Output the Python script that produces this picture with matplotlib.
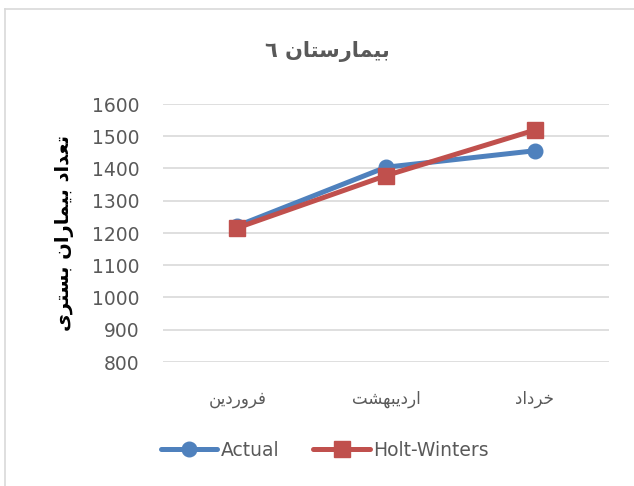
import matplotlib
matplotlib.use("Agg")
import matplotlib.pyplot as plt
from matplotlib.lines import Line2D

# data
months = ["فروردین", "اردیبهشت", "خرداد"]
actual = [1222, 1404, 1455]
holt_winters = [1216, 1378, 1519]
series_names = ["Actual", "Holt-Winters"]
title = "بیمارستان ٦"
ylabel = "تعداد بیماران بستری"
yticks = [800, 900, 1000, 1100, 1200, 1300, 1400, 1500, 1600]

BLUE = "#4F81BD"
RED = "#C0504D"
GRAY = "#595959"
GRID = "#D9D9D9"

# matplotlib has no arabic shaping, so map letters to presentation forms
# (isolated, final, initial, medial) and reverse for visual order
FORMS = {
    "ا": ("\uFE8D", "\uFE8E", None, None),
    "ب": ("\uFE8F", "\uFE90", "\uFE91", "\uFE92"),
    "ت": ("\uFE95", "\uFE96", "\uFE97", "\uFE98"),
    "خ": ("\uFEA5", "\uFEA6", "\uFEA7", "\uFEA8"),
    "د": ("\uFEA9", "\uFEAA", None, None),
    "ر": ("\uFEAD", "\uFEAE", None, None),
    "س": ("\uFEB1", "\uFEB2", "\uFEB3", "\uFEB4"),
    "ش": ("\uFEB5", "\uFEB6", "\uFEB7", "\uFEB8"),
    "ع": ("\uFEC9", "\uFECA", "\uFECB", "\uFECC"),
    "ف": ("\uFED1", "\uFED2", "\uFED3", "\uFED4"),
    "م": ("\uFEE1", "\uFEE2", "\uFEE3", "\uFEE4"),
    "ن": ("\uFEE5", "\uFEE6", "\uFEE7", "\uFEE8"),
    "ه": ("\uFEE9", "\uFEEA", "\uFEEB", "\uFEEC"),
    "و": ("\uFEED", "\uFEEE", None, None),
    "ی": ("\uFEEF", "\uFEF0", "\uFEF3", "\uFEF4"),
}


def dual(ch):
    return ch in FORMS and FORMS[ch][2] is not None


def shape(text):
    out = []
    for i, ch in enumerate(text):
        if ch not in FORMS:
            out.append(ch)
            continue
        prev = text[i - 1] if i > 0 else ""
        nxt = text[i + 1] if i + 1 < len(text) else ""
        join_prev = dual(prev)
        join_next = dual(ch) and nxt in FORMS
        iso, fin, ini, med = FORMS[ch]
        if join_prev and join_next:
            out.append(med)
        elif join_prev:
            out.append(fin)
        elif join_next:
            out.append(ini)
        else:
            out.append(iso)
    return "".join(reversed(out))


plt.rcParams["font.family"] = ["DejaVu Sans"]

W, H = 634, 486
fig = plt.figure(figsize=(W / 100, H / 100), dpi=100)

# chart frame (only top/left edges visible in the crop)
fig.add_artist(Line2D([5 / W, 5 / W], [0, 1 - 9 / H], color=GRID, lw=1.2))
fig.add_artist(Line2D([5 / W, 1], [1 - 9 / H, 1 - 9 / H], color=GRID, lw=1.2))

ax = fig.add_axes([163 / W, 1 - 362 / H, (609 - 163) / W, (362 - 104) / H])
x = list(range(len(months)))
ax.plot(x, actual, color=BLUE, lw=3.6, marker="o", ms=10.5, label=series_names[0],
        solid_capstyle="round", zorder=3)
ax.plot(x, holt_winters, color=RED, lw=3.6, marker="s", ms=11.5, label=series_names[1],
        solid_capstyle="round", zorder=4)

ax.set_xlim(-0.5, len(months) - 0.5)
ax.set_ylim(800, 1600)
ax.set_yticks(yticks)
ax.set_yticklabels([str(v) for v in yticks], fontsize=13.5, color=GRAY)
ax.set_xticks(x)
ax.set_xticklabels([shape(m) for m in months], fontsize=12, color=GRAY)
ax.tick_params(axis="both", length=0)
ax.tick_params(axis="y", pad=17)
ax.tick_params(axis="x", pad=20)
ax.grid(axis="y", color=GRID, lw=1.2)
ax.set_axisbelow(True)
for s in ax.spines.values():
    s.set_visible(False)

fig.text(327 / W, 1 - 51 / H, shape(title), ha="center", va="center",
         fontsize=15, fontweight="bold", color=GRAY)
fig.text(65 / W, 1 - 233 / H, shape(ylabel), ha="center", va="center", rotation=90,
         fontsize=14, fontweight="bold", color="black")

fig.legend(loc="center", bbox_to_anchor=(325 / W, 1 - 450 / H), ncol=2, frameon=False,
           fontsize=13.5, handlelength=3.0, columnspacing=1.8, handletextpad=0.2,
           labelcolor=GRAY)

fig.savefig("out.png", dpi=100)
